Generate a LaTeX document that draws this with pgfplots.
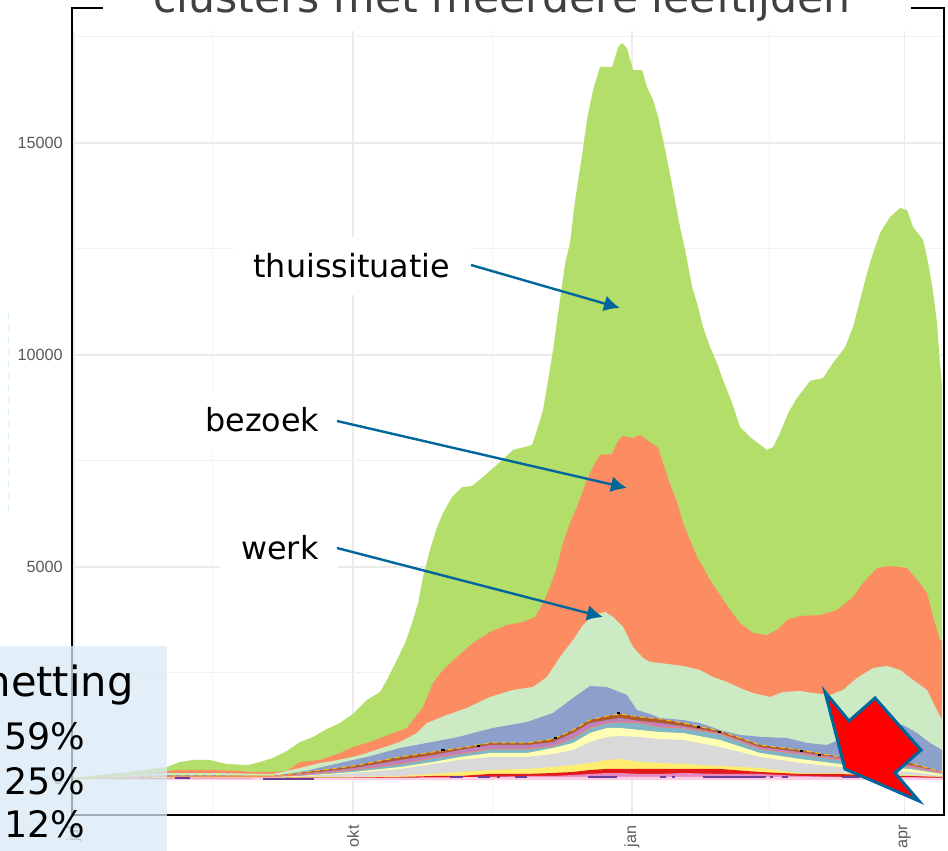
\documentclass[border=0pt]{standalone}
\usepackage{fontspec}
\setmainfont{Liberation Sans}
\newfontfamily\dv{DejaVu Sans}
\usepackage{pgfplots}
\usepackage{pgfplotstable}
\usetikzlibrary{arrows.meta}
\pgfplotsset{compat=1.18}

\definecolor{cgreen}{HTML}{B3DE69}
\definecolor{corange}{HTML}{FC8D62}
\definecolor{cpale}{HTML}{CCEBC5}
\definecolor{cblue}{HTML}{8DA0CB}
\definecolor{cbrown}{HTML}{B15928}
\definecolor{cmauve}{HTML}{BC80BD}
\definecolor{cteal}{HTML}{7FB5C4}
\definecolor{csalmon}{HTML}{FB8072}
\definecolor{cpy}{HTML}{FFFFB3}
\definecolor{cgrey}{HTML}{D9D9D9}
\definecolor{cyellow}{HTML}{FFED6F}
\definecolor{cred}{HTML}{E31A1C}
\definecolor{cpink}{HTML}{E78AC3}
\definecolor{clpink}{HTML}{FCCDE5}
\definecolor{cviolet}{HTML}{6A3D9A}
\definecolor{cgold}{HTML}{FFC107}
\definecolor{arrowblue}{HTML}{00669B}
\definecolor{boxblue}{HTML}{D8EAF5}
\definecolor{titlegrey}{HTML}{404040}
\definecolor{tickgrey}{HTML}{5A5A5A}

% day (0 = 1 okt), cumulative number of cases
\pgfplotstableread{
d v
-92.7 24
-83.5 94
-73.6 165
-61.4 283
-57.1 401
-52.8 448
-47.2 448
-41.6 354
-34.7 330
-30.7 401
-26.4 495
-21.8 660
-17.5 872
-13.2 990
-8.6 1179
-4.3 1320
0 1533
4.6 1863
8.9 2051
11.2 2334
14.5 2806
17.2 3207
19.5 3678
21.5 4150
23.1 4763
25.4 5400
27.4 5871
29.7 6272
32.7 6650
36.0 6885
39.3 6909
42.9 7121
48.5 7475
52.8 7758
59.1 7876
60.7 8229
62.7 8701
64.4 9408
66.0 10116
68.3 11295
70.0 12167
71.6 12639
73.3 13653
75.6 14714
77.2 15539
79.2 16247
81.5 16789
85.5 16789
87.5 17261
88.8 17355
90.4 17237
92.4 16718
95.4 16718
97.0 16317
99.0 16011
100.7 15610
103.0 14832
105.6 13889
107.9 13016
109.6 12474
111.9 11601
113.5 11224
115.5 10658
117.8 10187
120.1 9809
122.1 9408
125.1 8866
127.7 8300
131.0 8064
136.6 7758
138.6 7829
140.9 8159
143.6 8630
146.5 8984
150.8 9385
155.1 9456
158.4 9809
162.4 10187
165.0 10658
167.3 11295
169.6 11931
171.6 12403
173.9 12875
177.2 13252
180.5 13464
182.8 13417
184.8 13016
188.1 12710
189.8 12167
191.4 11483
192.7 10752
193.4 10045
194.4 9220
}\thuis

\pgfplotstableread{
d v
-92.7 0
-70 100
-61.4 189
-57.1 212
-47.2 212
-37.3 189
-34 165
-26.4 165
-21.8 189
-17.5 401
-10.9 448
-4.3 613
0 755
4.6 849
9.9 990
17.8 1203
23.1 1698
26.4 2264
29.7 2570
34.3 2877
39.6 3207
45.2 3466
50.8 3631
56.1 3702
60.1 3820
62.7 4150
65 4527
67.3 4999
69.3 5565
71.6 6036
73.9 6414
75.6 6744
77.2 7050
79.2 7357
81.5 7640
85.5 7664
87.1 7923
88.8 8088
92.4 8041
94.7 8112
98.0 7946
100.7 7805
102.3 7451
104.6 6956
106.9 6532
108.9 6036
111.2 5636
113.5 5235
115.5 4999
117.8 4692
121.1 4339
124.4 3985
127.7 3678
132 3443
136.6 3396
139.9 3513
143.2 3749
147.5 3844
154.1 3867
159.7 3985
165 4292
168.3 4622
172.9 4975
177.2 5023
182.8 4975
186.1 4692
189.4 4386
191.4 3820
193.7 3278
194.4 3254
}\bezoek

\pgfplotstableread{
d v
-92.7 0
-61.4 141
-47.2 141
-26.4 118
-17.5 259
-10.9 377
-6.6 424
0 519
4.6 613
15.5 872
21.1 1085
24.4 1320
31 1509
37.6 1674
45.2 1934
52.8 2099
59.4 2169
64 2405
68.3 2877
72.6 3278
75.9 3631
79.2 3867
83.2 3938
85.8 3820
89.1 3584
92.4 3113
95.7 2853
98 2759
101.3 2735
108.9 2665
114.5 2570
118.8 2405
123.4 2287
127.7 2146
132 2028
137.6 1934
141.9 2051
147.5 2075
151.8 2028
157.4 1981
161.7 2099
166.3 2382
171.6 2617
176.2 2665
180.5 2570
184.8 2334
189.4 2099
192.1 1698
194.4 1391
}\werk

\pgfplotstableread{
d v
-92.7 0
-61.4 94
-47.2 94
-26.4 71
-19.8 141
-14.2 212
-8.6 307
0 448
4.6 519
15.5 731
29.7 920
34.7 990
40.9 1108
46.2 1203
57.4 1344
66 1556
72.6 1910
78.2 2193
83.8 2169
90.4 1981
93.7 1627
98 1533
101.3 1438
108.9 1391
114.5 1320
121.1 1155
127.7 1038
135.3 990
143.2 967
149.8 849
156.4 802
164 1038
173.9 1226
181.5 1273
186.1 1085
190.4 849
194.4 684
}\blauw

% lower groups, cumulative
\pgfplotstableread{
d brown mauve teal py grey yellow red pink
-92.7 0 0 0 0 0 0 0 0
-61.4 71 59 52 47 42 38 24 12
-26.4 71 66 61 52 47 28 24 12
-17.5 141 118 94 71 59 47 35 24
0 307 259 212 165 141 47 35 24
15.5 519 448 354 283 236 71 47 24
26.4 637 566 495 401 354 118 71 24
35.3 731 684 590 519 448 165 71 24
45.2 849 802 707 613 519 212 118 47
57.4 849 802 707 613 519 236 118 71
66 943 872 778 731 590 283 141 71
72.6 1155 1085 967 849 684 330 165 94
78.2 1391 1320 1203 1085 872 377 212 118
83.8 1486 1391 1320 1203 990 448 236 141
88.1 1533 1438 1344 1203 1014 472 236 141
94.7 1462 1368 1320 1155 990 401 236 118
101.3 1415 1320 1226 1108 943 377 236 118
108.9 1320 1250 1203 1085 920 354 236 141
121.1 1132 1085 1061 920 755 307 236 118
134.3 802 755 707 613 519 259 165 118
147.5 684 637 590 472 377 141 118 71
160.7 519 495 448 354 283 141 118 47
173.9 448 401 354 283 212 94 71 24
183.8 377 330 283 236 165 94 71 47
194.4 165 165 141 118 71 47 47 24
}\laag

\begin{document}
\begin{tikzpicture}
\useasboundingbox (0,0) rectangle (474pt,425.5pt);
\begin{axis}[
  at={(36pt,18pt)}, anchor=south west,
  scale only axis, width=436pt, height=392pt,
  xmin=-92.7, xmax=195, ymin=-849, ymax=17638,
  xtick={-92,0,92,182}, xticklabels={jul,okt,jan,apr},
  minor xtick={-46.2,46,137.3},
  ytick={0,5000,10000,15000},
  minor ytick={2500,7500,12500,17500},
  grid=both,
  major grid style={color=black!8,line width=0.7pt},
  minor grid style={color=black!5,line width=0.5pt},
  axis line style={draw=none},
  major tick length=0pt, minor tick length=0pt,
  scaled y ticks=false,
  /pgf/number format/assume math mode=true,
  /pgf/number format/1000 sep={},
  yticklabel style={font=\fontsize{8.1}{9}\selectfont,text=tickgrey,inner sep=0pt,xshift=-4.5pt},
  xticklabel style={font=\fontsize{8.1}{9}\selectfont,text=tickgrey,rotate=90,anchor=east,inner sep=0pt,xshift=-5pt},
  unbounded coords=jump,
]
\addplot [fill=cgreen,draw=none] table [x=d,y=v] {\thuis} \closedcycle;
\addplot [fill=corange,draw=none] table [x=d,y=v] {\bezoek} \closedcycle;
\addplot [fill=cpale,draw=none] table [x=d,y=v] {\werk} \closedcycle;
\addplot [fill=cblue,draw=none] table [x=d,y=v] {\blauw} \closedcycle;
\addplot [fill=cbrown,draw=none] table [x=d,y=brown] {\laag} \closedcycle;
\addplot [fill=cmauve,draw=none] table [x=d,y=mauve] {\laag} \closedcycle;
\addplot [fill=cteal,draw=none] table [x=d,y=teal] {\laag} \closedcycle;
\addplot [fill=cpy,draw=none] table [x=d,y=py] {\laag} \closedcycle;
\addplot [fill=cgrey,draw=none] table [x=d,y=grey] {\laag} \closedcycle;
\addplot [fill=cyellow,draw=none] table [x=d,y=yellow] {\laag} \closedcycle;
\addplot [fill=cred,draw=none] table [x=d,y=red] {\laag} \closedcycle;
\addplot [fill=cpink,draw=none] table [x=d,y=pink] {\laag} \closedcycle;
\addplot [fill=clpink,draw=none] coordinates {(-61.4,12) (0,24) (45.2,47) (160.7,47) (194.4,24)} \closedcycle;
\addplot [fill=clpink,draw=none] coordinates {(-92.7,-5) (-61.4,-24) (194.4,-24)} \closedcycle;
\addplot [csalmon,line width=0.4pt] table [x=d,y=teal] {\laag};
\addplot [cgold,line width=0.5pt,dash pattern=on 2.5pt off 2pt] table [x=d,y=brown] {\laag};
% losse paarse streepjes
\addplot [cviolet,line width=1pt] coordinates {
  (-58.7,15) (-53.8,15) (nan,nan)
  (-29.7,10) (-12.9,10) (nan,nan)
  (32,40) (36.3,40) (nan,nan)
  (41.3,40) (45.2,40) (nan,nan)
  (47.5,40) (48.5,40) (nan,nan)
  (53.5,40) (57.4,40) (nan,nan)
  (77.6,50) (87.1,50) (nan,nan)
  (101.3,40) (103.3,40) (nan,nan)
  (105.3,40) (106.3,40) (nan,nan)
  (115.5,40) (136.3,40) (nan,nan)
  (137.6,40) (138.6,40) (nan,nan)
  (141.6,40) (143.6,40) (nan,nan)
  (161.4,40) (167.3,40)
};
% zwarte streepjes
\addplot [black,line width=0.8pt] coordinates {
  (29.2,684) (30.2,684) (nan,nan)
  (40.8,778) (41.8,778) (nan,nan)
  (66.2,967) (67.2,967) (nan,nan)
  (87,1556) (88,1556) (nan,nan)
  (113.4,1226) (114.4,1226) (nan,nan)
  (120.3,1108) (121.3,1108) (nan,nan)
  (147.4,660) (148.4,660) (nan,nan)
  (153.3,566) (154.3,566)
};
\end{axis}

% alles hieronder in pixels van het origineel
\begin{scope}[x=0.5pt,y=-0.5pt,shift={(0pt,425.5pt)}]
  \fill[white] (233,237) rectangle (471,295);
  \fill[white] (190,392) rectangle (337,451);
  \fill[white] (220,530) rectangle (338,570);

  \draw[cyan!15,line width=0.5pt,dash pattern=on 3pt off 3pt] (8,313) -- (8,512);
  \draw[black,line width=1pt] (103,8) -- (72,8) -- (72,815) -- (944,815) -- (944,8) -- (911,8);

  \node[anchor=base,inner sep=0pt,text=titlegrey,font=\dv\fontsize{21.3}{24}\selectfont] at (502,13) {clusters met meerdere leeftijden};

  \node[anchor=base west,inner sep=0pt,font=\dv\fontsize{15.9}{18}\selectfont] at (253,278) {thuissituatie};
  \node[anchor=base west,inner sep=0pt,font=\dv\fontsize{15.9}{18}\selectfont] at (205,432) {bezoek};
  \node[anchor=base west,inner sep=0pt,font=\dv\fontsize{15.9}{18}\selectfont] at (241,560) {werk};

  \draw[arrowblue,line width=1.2pt,-{Latex[length=8pt,width=8pt]}] (471,265) -- (620,308);
  \draw[arrowblue,line width=1.2pt,-{Latex[length=8pt,width=8pt]}] (337,421) -- (627,488);
  \draw[arrowblue,line width=1.2pt,-{Latex[length=8pt,width=8pt]}] (337,548) -- (603,617);

  \draw[arrowblue,fill=red,line width=1.5pt,miter limit=10]
    (825,692) -- (849,721) -- (875,698) -- (921,750) -- (895,773) -- (919,801) -- (845,769) -- cycle;

  \fill[boxblue,fill opacity=0.74] (-4,646) rectangle (167,855);
  \node[anchor=base east,inner sep=0pt,font=\dv\fontsize{20.8}{24}\selectfont] at (134,697) {besmetting};
  \node[anchor=base west,inner sep=0pt,font=\dv\fontsize{18.2}{21}\selectfont] at (4,750) {59\%};
  \node[anchor=base west,inner sep=0pt,font=\dv\fontsize{18.2}{21}\selectfont] at (4,795) {25\%};
  \node[anchor=base west,inner sep=0pt,font=\dv\fontsize{18.2}{21}\selectfont] at (4,838) {12\%};
\end{scope}
\end{tikzpicture}
\end{document}
